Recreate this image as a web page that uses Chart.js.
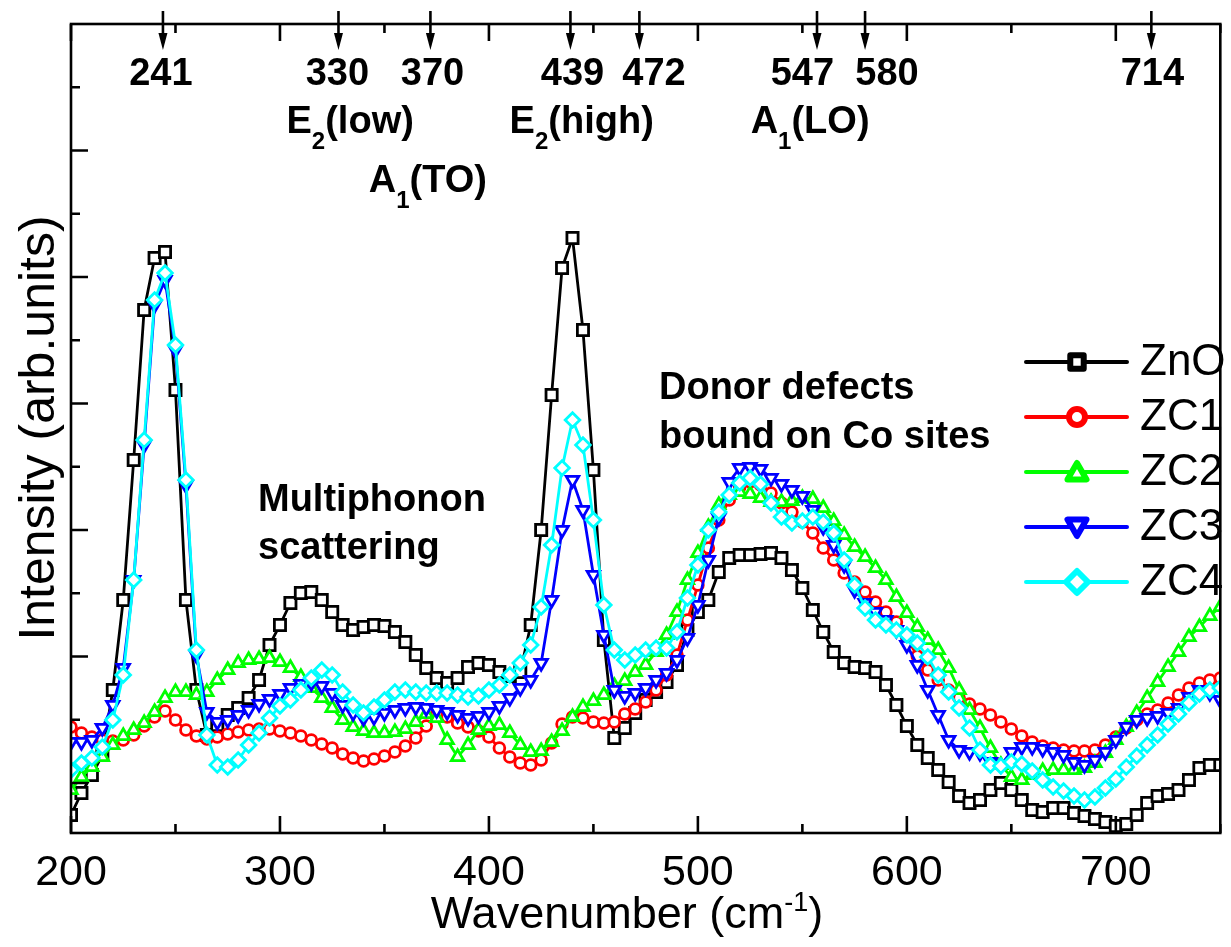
<!DOCTYPE html>
<html><head><meta charset="utf-8">
<script src="https://cdn.jsdelivr.net/npm/chart.js@4.4.0/dist/chart.umd.min.js"></script>
<style>html,body{margin:0;padding:0;background:#fff;overflow:hidden}#wrap{width:1231px;height:947px;position:relative}</style>
</head><body><div id="wrap"><canvas id="c" width="1231" height="947"></canvas></div>
<script>
// ---- data (intensity in arbitrary units) ----
const wavenumber = [200,205,210,215,220,225,230,235,240,245,250,255,260,265,270,275,280,285,290,295,300,305,310,315,320,325,330,335,340,345,350,355,360,365,370,375,380,385,390,395,400,405,410,415,420,425,430,435,440,445,450,455,460,465,470,475,480,485,490,495,500,505,510,515,520,525,530,535,540,545,550,555,560,565,570,575,580,585,590,595,600,605,610,615,620,625,630,635,640,645,650,655,660,665,670,675,680,685,690,695,700,705,710,715,720,725,730,735,740,745,750];
const ZnO = [18,40,58,78,143,233,373,523,575,581,443,233,143,98,108,118,125,135,153,188,208,230,240,241,233,221,208,203,206,208,207,201,191,178,165,155,150,155,166,170,168,161,157,161,208,303,438,565,595,503,363,193,95,105,120,133,141,151,168,203,221,233,261,275,278,278,279,280,275,263,245,223,201,181,170,166,165,161,148,128,107,88,75,63,51,37,30,33,43,50,43,33,23,21,25,25,20,17,14,11,7,9,18,30,37,39,43,53,65,68,68];
const ZC1 = [106,100,96,93,92,93,98,107,116,122,113,103,97,94,96,99,101,103,104,104,102,100,97,93,89,85,79,75,72,74,77,81,87,95,107,119,116,110,106,102,96,85,76,70,68,73,90,109,116,115,111,110,111,119,124,131,143,158,178,213,248,285,313,333,346,351,348,340,330,321,311,300,285,273,260,251,241,231,221,211,195,177,163,153,143,135,129,124,118,111,104,97,91,87,85,83,82,82,83,88,96,105,113,119,123,130,138,145,150,153,155];
const ZC2 = [43,56,66,76,88,97,103,110,121,135,141,141,138,141,153,163,170,173,174,175,171,165,156,145,135,125,113,106,102,100,100,101,104,111,119,115,93,76,88,103,107,108,100,88,81,82,91,102,116,126,132,138,147,152,161,168,181,198,221,253,280,306,328,338,341,339,335,331,331,332,335,334,325,312,298,286,276,265,253,236,220,206,193,183,165,143,123,105,85,68,56,53,58,62,63,63,63,65,70,80,93,106,120,135,151,166,181,196,206,217,226];
const ZC3 = [91,91,93,105,128,165,253,388,528,553,483,348,178,121,111,113,118,123,129,134,139,145,149,150,147,140,128,120,115,116,120,123,125,126,125,123,121,118,115,117,121,127,135,145,153,170,233,303,353,323,258,198,143,137,140,145,153,160,173,195,228,273,315,351,365,366,364,355,349,343,337,323,306,288,268,243,230,221,213,203,188,168,143,118,93,83,81,80,71,68,81,86,86,84,81,78,71,68,73,81,93,106,113,115,117,120,125,136,143,140,133];
const ZC4 = [63,70,75,86,113,158,253,393,533,560,488,353,183,98,68,66,73,88,100,115,127,133,143,155,163,158,141,128,120,126,133,141,143,141,140,140,140,138,136,137,143,148,158,170,188,226,288,365,413,388,313,228,183,173,178,183,185,185,201,235,268,303,321,338,350,355,349,330,316,310,312,316,311,300,273,248,225,213,208,203,198,190,176,158,141,125,105,83,68,67,71,69,62,53,46,42,37,33,36,45,54,66,77,88,98,109,119,130,139,143,145];

const seriesNames = ['ZnO','ZC1','ZC2','ZC3','ZC4'];
const seriesValues = [ZnO, ZC1, ZC2, ZC3, ZC4];

// axis ticks (no labels on y)
const xMajorTicks = [200,300,400,500,600,700];
const xMinorTicks = [250,350,450,550,650,750];
const yMajorTicks = [50,176.5,303,429.5,556,682.5];
const yMinorTicks = [113.25,239.75,366.25,492.75,619.25,745.75];

// Raman mode annotations
const peakArrowAt = [244,328,372,439,472,557,580,717];
const peakLabels = ['241','330','370','439','472','547','580','714'];
const peakLabelAt = [243,327.5,373,440,479,550,590.5,717.5];
const modeLabels = [['E','2','(low)'],['A','1','(TO)'],['E','2','(high)'],['A','1','(LO)']];
const modeLabelAt = [333.6,370.8,444.4,553.7];
const noteMultiphonon = ['Multiphonon','scattering'];
const noteDonor = ['Donor defects','bound on Co sites'];
const xTitle = ['Wavenumber (cm','-1',')'];
const yTitle = 'Intensity (arb.units)';

// ---- styles ----
const FONT = "'Liberation Sans', Arial, Helvetica, sans-serif";
const styles = [
  {color:'#000000', pointStyle:'rect', radius:7.9, rotation:0},
  {color:'#ff0000', pointStyle:'circle', radius:5.4, rotation:0},
  {color:'#00ff00', pointStyle:'triangle', radius:7.2, rotation:0},
  {color:'#0000ff', pointStyle:'triangle', radius:7.2, rotation:180},
  {color:'#00ffff', pointStyle:'rectRot', radius:7.3, rotation:0}
];

const datasets = seriesValues.map((vals, i) => ({
  label: seriesNames[i],
  data: wavenumber.map((w, j) => ({x: w, y: vals[j]})),
  borderColor: styles[i].color,
  backgroundColor: '#ffffff',
  borderWidth: 2.8,
  pointStyle: styles[i].pointStyle,
  pointRadius: styles[i].radius,
  pointRotation: styles[i].rotation,
  pointBorderWidth: 2.8,
  pointBorderColor: styles[i].color,
  pointBackgroundColor: '#ffffff',
  tension: 0,
  order: seriesNames.length - 1 - i
}));

function drawRich(ctx, segs, cx, baseline, align) {
  let total = 0;
  segs.forEach(s => { ctx.font = s.font; s.w = ctx.measureText(s.text).width; total += s.w; });
  let xx = align === 'left' ? cx : cx - total / 2;
  ctx.textAlign = 'left'; ctx.textBaseline = 'alphabetic';
  segs.forEach(s => { ctx.font = s.font; ctx.fillText(s.text, xx, baseline + (s.dy || 0)); xx += s.w; });
}

const decor = {
  id: 'decor',
  afterDraw(chart) {
    const {ctx, chartArea: a, scales: {x, y}} = chart;
    ctx.save();
    ctx.strokeStyle = '#000'; ctx.fillStyle = '#000';
    ctx.lineWidth = 2.6;
    ctx.strokeRect(a.left, a.top, a.right - a.left, a.bottom - a.top);
    ctx.beginPath();
    const tx = (list, len) => list.forEach(v => {
      const p = x.getPixelForValue(v);
      ctx.moveTo(p, a.bottom); ctx.lineTo(p, a.bottom - len);
      ctx.moveTo(p, a.top); ctx.lineTo(p, a.top + len);
    });
    const ty = (list, len) => list.forEach(v => {
      const p = y.getPixelForValue(v);
      ctx.moveTo(a.left, p); ctx.lineTo(a.left + len, p);
    });
    tx(xMajorTicks, 17); tx(xMinorTicks, 9); ty(yMajorTicks, 17); ty(yMinorTicks, 9);
    ctx.stroke();

    // arrows + peak labels
    peakArrowAt.forEach(v => {
      const p = x.getPixelForValue(v);
      ctx.beginPath(); ctx.moveTo(p, 11); ctx.lineTo(p, 36); ctx.stroke();
      ctx.beginPath(); ctx.moveTo(p - 4.5, 33); ctx.lineTo(p + 4.5, 33); ctx.lineTo(p, 50); ctx.closePath(); ctx.fill();
    });
    ctx.font = `bold 38px ${FONT}`; ctx.textAlign = 'center'; ctx.textBaseline = 'alphabetic';
    peakLabels.forEach((t, i) => ctx.fillText(t, x.getPixelForValue(peakLabelAt[i]), 85));
    const modeBase = [133, 192, 133, 133];
    modeLabels.forEach((m, i) => {
      drawRich(ctx, [
        {text: m[0], font: `bold 38px ${FONT}`},
        {text: m[1], font: `bold 24px ${FONT}`, dy: 16},
        {text: m[2], font: `bold 38px ${FONT}`}
      ], x.getPixelForValue(modeLabelAt[i]), modeBase[i]);
    });
    ctx.font = `bold 38px ${FONT}`; ctx.textAlign = 'left';
    ctx.fillText(noteMultiphonon[0], 258, 511);
    ctx.fillText(noteMultiphonon[1], 258, 559);
    ctx.fillText(noteDonor[0], 659, 399);
    ctx.fillText(noteDonor[1], 659, 448);

    // axis titles
    drawRich(ctx, [
      {text: xTitle[0], font: `45px ${FONT}`},
      {text: xTitle[1], font: `27px ${FONT}`, dy: -17},
      {text: xTitle[2], font: `45px ${FONT}`}
    ], 627, 928);
    ctx.save();
    ctx.translate(54, 428); ctx.rotate(-Math.PI / 2);
    ctx.font = `50px ${FONT}`; ctx.textAlign = 'center'; ctx.textBaseline = 'alphabetic';
    ctx.fillText(yTitle, 0, 0);
    ctx.restore();

    // legend
    chart.data.datasets.forEach((ds, i) => {
      const ly = 362 + 55 * i;
      ctx.strokeStyle = ds.borderColor; ctx.lineWidth = 4; ctx.lineCap = 'round';
      ctx.beginPath(); ctx.moveTo(1026, ly); ctx.lineTo(1127, ly); ctx.stroke();
      ctx.fillStyle = '#fff'; ctx.lineWidth = 6; ctx.lineJoin = 'round';
      const r = {rect: 9.5, circle: 8, triangle: 11, rectRot: 11}[ds.pointStyle];
      Chart.helpers.drawPoint(ctx, {pointStyle: ds.pointStyle, rotation: ds.pointRotation, radius: r, borderWidth: 6}, 1077, ly + (ds.pointStyle === 'triangle' ? (ds.pointRotation ? -2 : 2) : 0));
      ctx.fillStyle = '#000'; ctx.font = `44px ${FONT}`; ctx.textAlign = 'left'; ctx.textBaseline = 'middle';
      ctx.fillText(ds.label, 1140, ly + 1);
    });
    ctx.restore();
  }
};

new Chart(document.getElementById('c'), {
  type: 'line',
  data: {datasets},
  options: {
    responsive: false, animation: false, events: [],
    layout: {padding: {left: 71, right: 3, top: 24, bottom: 0}},
    plugins: {legend: {display: false}, tooltip: {enabled: false}, title: {display: false}},
    scales: {
      x: {
        type: 'linear', min: 200, max: 750, position: 'bottom',
        afterBuildTicks: s => { s.ticks = xMajorTicks.map(v => ({value: v})); },
        afterFit: s => { s.height = 114; },
        ticks: {font: {family: FONT, size: 43}, color: '#000', padding: 14, maxRotation: 0, autoSkip: false},
        grid: {display: false, drawTicks: false}, border: {display: false}
      },
      y: {type: 'linear', min: 0, max: 809, display: false}
    }
  },
  plugins: [decor]
});
</script></body></html>
